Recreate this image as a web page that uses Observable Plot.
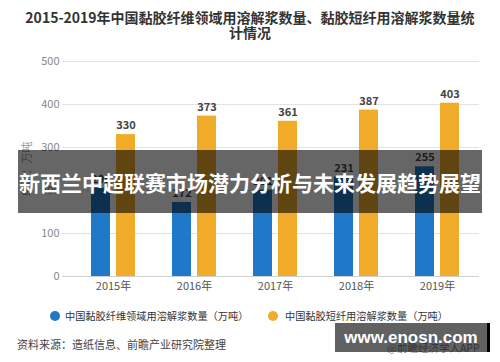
<!DOCTYPE html>
<html>
<head>
<meta charset="utf-8">
<script src="https://cdn.jsdelivr.net/npm/d3@7"></script>
<script src="https://cdn.jsdelivr.net/npm/@observablehq/plot@0.6"></script>
<style>
  html, body { margin: 0; padding: 0; background: #fff; }
  body { width: 500px; height: 362px; position: relative; overflow: hidden; font-family: "Noto Sans CJK SC", "Noto Sans", sans-serif; }
  #title { position: absolute; left: 0; top: 10px; width: 500px; text-align: center; font-weight: bold; font-size: 14px; line-height: 15px; color: #333; white-space: nowrap; }
  #chart { position: absolute; left: 0; top: 42px; }
  #banner { position: absolute; left: 18px; top: 150px; width: 464px; height: 63px; background: rgba(0,0,0,0.6); color: #fff; font-weight: bold; font-size: 22px; line-height: 63px; text-align: center; white-space: nowrap; overflow: hidden; }
  #bannerText { display: inline-block; }
  #legend { position: absolute; top: 309px; left: 0; width: 500px; font-size: 10.2px; color: #333; white-space: nowrap; }
  .item { position: absolute; top: 0; height: 14px; line-height: 14px; }
  .dot { position: absolute; top: 2px; width: 10px; height: 10px; border-radius: 50%; }
  #source { position: absolute; left: 17px; top: 336px; font-size: 11px; color: #444; white-space: nowrap; }
  #wmtext { position: absolute; left: 387px; top: 340px; font-size: 10.5px; color: #888; white-space: nowrap; }
  #wm { position: absolute; left: 335px; top: 323px; width: 152px; height: 29px; background: rgba(0,0,0,0.62); border-right: 3px solid #000; color: #fff; font-family: "Liberation Sans", Arial, sans-serif; font-weight: bold; font-size: 17px; line-height: 29px; text-align: center; }
</style>
</head>
<body>
<div id="title"></div>
<div id="chart"></div>
<div id="banner"><span id="bannerText"></span></div>
<div id="legend"></div>
<div id="source"></div>
<div id="wmtext">@前瞻经济学人APP</div>
<div id="wm">www.enosn.com</div>
<script>
const titleLines = ["2015-2019年中国黏胶纤维领域用溶解浆数量、黏胶短纤用溶解浆数量统", "计情况"];
const years = ["2015年", "2016年", "2017年", "2018年", "2019年"];
const fiberValues = [205, 172, 201, 231, 255];
const stapleValues = [330, 373, 361, 387, 403];
const yTicks = [0, 100, 200, 300, 400, 500];
const seriesNames = ["中国黏胶纤维领域用溶解浆数量（万吨）", "中国黏胶短纤用溶解浆数量（万吨）"];
const seriesColors = ["#1f78c8", "#f0ac29"];
const yLabel = "单位：万吨";
const bannerText = "新西兰中超联赛市场潜力分析与未来发展趋势展望";
const sourceText = "资料来源：造纸信息、前瞻产业研究院整理";

const data = years.map((year, i) => ({year, fiber: fiberValues[i], staple: stapleValues[i]}));

document.getElementById("title").innerHTML = titleLines.join("<br>");
document.getElementById("source").textContent = sourceText;

// banner text: fit to the banner width
const bt = document.getElementById("bannerText");
bt.textContent = bannerText;
let fs = 22;
bt.style.fontSize = fs + "px";
const w0 = bt.getBoundingClientRect().width;
if (w0 > 462) {
  fs = fs * 462 / w0;
  bt.style.fontSize = fs.toFixed(2) + "px";
}

const legend = document.getElementById("legend");
const legendPos = [{dot: 50, text: 65}, {dot: 268, text: 285}];
seriesNames.forEach((name, i) => {
  const d = document.createElement("div");
  d.className = "dot";
  d.style.left = legendPos[i].dot + "px";
  d.style.background = seriesColors[i];
  legend.appendChild(d);
  const t = document.createElement("div");
  t.className = "item";
  t.style.left = legendPos[i].text + "px";
  t.textContent = name;
  legend.appendChild(t);
});

const chart = Plot.plot({
  width: 500,
  height: 258,
  marginTop: 19,
  marginBottom: 24,
  marginLeft: 62,
  marginRight: 21,
  style: {fontFamily: "'Noto Sans CJK SC', 'Noto Sans', sans-serif", background: "transparent"},
  x: {domain: years, paddingInner: 0.46, paddingOuter: 0.233, insetLeft: 9, label: null},
  y: {domain: [0, 500], label: null},
  marks: [
    Plot.gridY(yTicks, {stroke: "#e2e2e2", strokeOpacity: 1}),
    Plot.axisY(yTicks, {tickSize: 0, tickPadding: 3, fontSize: 11, color: "#888", label: null}),
    Plot.axisX({tickSize: 0, tickPadding: 6, fontSize: 11, color: "#555", label: null}),
    Plot.ruleY([0], {stroke: "#cfcfcf"}),
    Plot.barY(data, {x: "year", y: "fiber", fill: seriesColors[0], insetRight: 25}),
    Plot.barY(data, {x: "year", y: "staple", fill: seriesColors[1], insetLeft: 25}),
    Plot.text(data, {x: "year", y: "fiber", text: d => String(d.fiber), dx: -12.5, dy: -9, fontSize: 11, fontWeight: "bold", fill: "#444"}),
    Plot.text(data, {x: "year", y: "staple", text: d => String(d.staple), dx: 12.5, dy: -9, fontSize: 11, fontWeight: "bold", fill: "#444"}),
    Plot.text([yLabel], {frameAnchor: "left", textAnchor: "middle", rotate: -90, dx: -35, fontSize: 11, fill: "#999"})
  ]
});
document.getElementById("chart").appendChild(chart);
</script>
</body>
</html>
